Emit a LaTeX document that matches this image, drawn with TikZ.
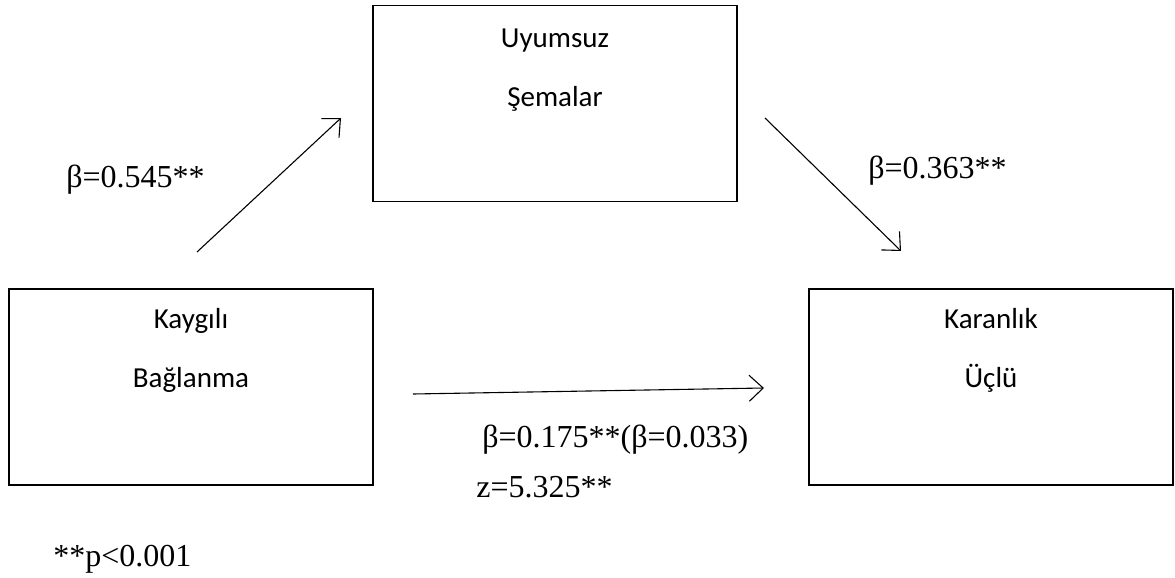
\documentclass[tikz,border=0pt]{standalone}
\usepackage{fontspec}
\setmainfont{Liberation Serif}
\newfontfamily\kutufont{Carlito}
\usetikzlibrary{arrows.meta}

\tikzset{
  kutu/.style={draw, line width=0.65pt, minimum width=182pt,
               minimum height=98pt, inner sep=0pt},
  kutuyazi/.style={anchor=base, align=center,
                   font=\kutufont\fontsize{14.5}{29.5}\selectfont},
  katsayi/.style={anchor=base west, inner sep=0pt,
                  font=\fontsize{16}{19}\selectfont},
  ok/.style={line width=0.55pt, -{Straight Barb[length=7pt,width=13pt]}}
}

\begin{document}
\begin{tikzpicture}[x=0.5pt,y=-0.5pt]
\useasboundingbox (0,0) rectangle (1175,578);

\node[kutu] (uyum) at (555,103.5) {};
\node[kutuyazi] (uyumyazi) at (555,106) {Uyumsuz\\Şemalar};
\node[kutu] (kaygi) at (191,387) {};
\node[kutuyazi] (kaygiyazi) at (191,387) {Kaygılı\\Bağlanma};
\node[kutu] (karan) at (991,387) {};
\node[kutuyazi] (karanyazi) at (991,387) {Karanlık\\Üçlü};

\coordinate (a1s) at (197,252);
\coordinate (a1e) at (341,118);
\coordinate (a2s) at (765,118);
\coordinate (a2e) at (901,251);
\coordinate (a3s) at (413,394);
\coordinate (a3e) at (764,388);
\draw[ok] (a1s) -- (a1e);
\draw[ok] (a2s) -- (a2e);
\draw[ok] (a3s) -- (a3e);

\node[katsayi] (b1) at (66,187) {β=0.545**};
\node[katsayi] (b2) at (868,178) {β=0.363**};
\node[katsayi] (b3) at (482,447) {β=0.175**(β=0.033)};
\node[katsayi] (zdeger) at (476,497) {z=5.325**};
\node[katsayi] (pdeger) at (53,566) {**p<0.001};
\end{tikzpicture}
\end{document}
